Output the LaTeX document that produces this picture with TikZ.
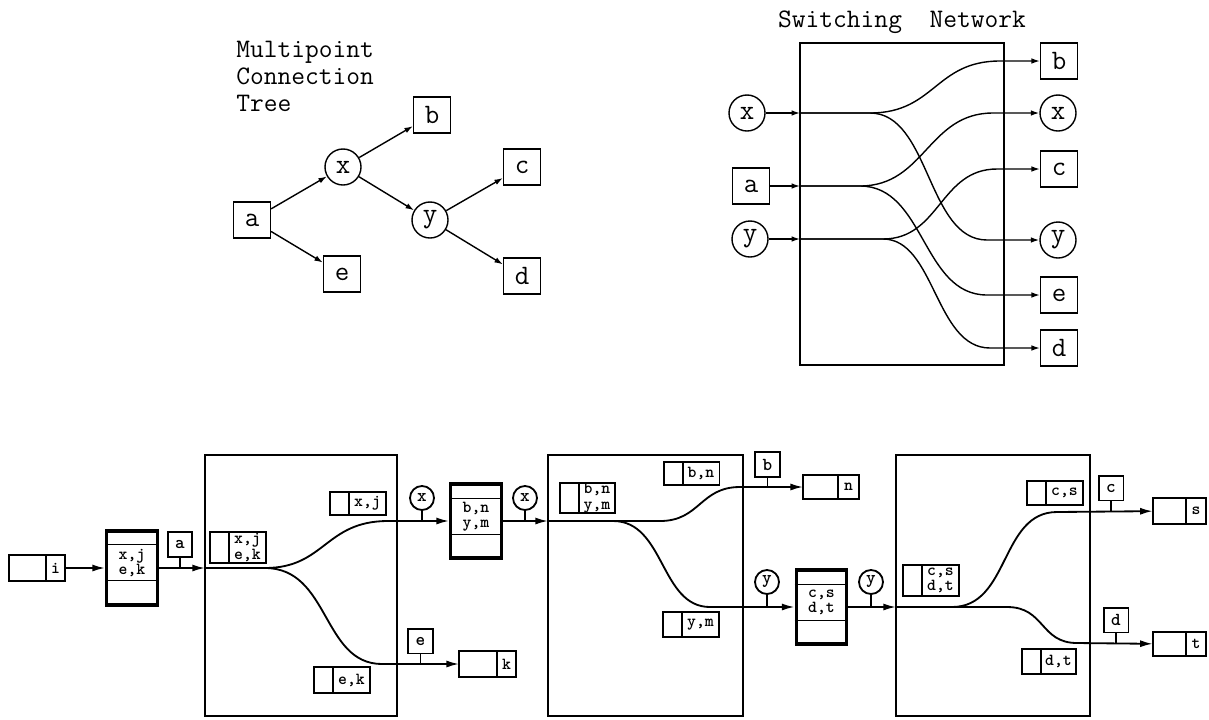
\documentclass[tikz,border=0pt]{standalone}
\usepackage{fontspec}
\usepackage{tikz}
\usetikzlibrary{positioning, arrows.meta, calc}
\newfontfamily\ptrfont{lmmonolt10-bold.otf}

\begin{document}
\begin{tikzpicture}[x=0.025cm, y=-0.025cm,
    lbl/.style={draw, line width=1pt, minimum width=0.92cm, minimum height=0.9cm, inner sep=0pt, font=\ttfamily\fontsize{20}{20}\selectfont},
    rnd/.style={lbl, circle, minimum size=0.9cm},
    ttl/.style={font=\ttfamily\fontsize{19}{19}\selectfont, inner sep=0pt},
    netbox/.style={draw, line width=2pt},
    arr/.style={-{Latex[length=6pt, width=4pt]}, line width=1pt},
    barr/.style={-{Latex[length=9pt, width=5pt]}, line width=1.3pt},
    stem/.style={line width=1.2pt},
    cell/.style={draw, line width=1.3pt, outer sep=0pt, inner sep=0pt, align=center, font=\ptrfont\fontsize{12}{11}\selectfont},
    wcell/.style={cell, minimum width=0.92cm},
    ncell/.style={cell, minimum width=0.47cm},
    tbl/.style={draw, line width=2.2pt, minimum width=1.27cm, minimum height=1.85cm, inner sep=0pt},
    tbltxt/.style={inner sep=0pt, align=center, font=\ptrfont\fontsize{12}{11}\selectfont},
    tagc/.style={draw, circle, line width=1.3pt, minimum size=0.6cm, inner sep=0pt, font=\ptrfont\fontsize{13}{13}\selectfont},
    tagb/.style={tagc, rectangle, minimum size=0.62cm}]
  \useasboundingbox (0,0) rectangle (1209,719);

  % multipoint connection tree
  \node[ttl, anchor=north west, align=left] (mct) at (236,41) {Multipoint\\Connection\\Tree};
  \node[lbl] (a) at (252,220) {a};
  \node[rnd] (x) at (343,167) {x};
  \node[lbl] (b) at (432,115) {b};
  \node[rnd] (y) at (430,220) {y};
  \node[lbl] (c) at (522,167) {c};
  \node[lbl] (d) at (522,276) {d};
  \node[lbl] (e) at (342,274) {e};
  \draw[arr] (a) -- (x);
  \draw[arr] (x) -- (b);
  \draw[arr] (x) -- (y);
  \draw[arr] (y) -- (c);
  \draw[arr] (y) -- (d);
  \draw[arr] (a) -- (e);

  % switching network
  \node[ttl] (swn) at (902,22) {Switching\ \ Network};
  \draw[netbox] (800,43) rectangle (1004,365);
  \node[rnd] (lx) at (747,113) {x};
  \node[lbl] (la) at (751,186) {a};
  \node[rnd] (ly) at (750,239) {y};
  \node[lbl] (rb) at (1059,61) {b};
  \node[rnd] (rx) at (1058,113) {x};
  \node[lbl] (rc) at (1059,169) {c};
  \node[rnd] (ry) at (1058,240) {y};
  \node[lbl] (re) at (1059,295) {e};
  \node[lbl] (rd) at (1059,348) {d};
  \coordinate (ix) at (800,113);
  \coordinate (ia) at (800,186);
  \coordinate (iy) at (800,239);
  \draw[arr] (lx) -- (ix);
  \draw[arr] (la) -- (ia);
  \draw[arr] (ly) -- (iy);
  \draw[arr] (ix) -- (870,113) .. controls (935,113) and (935,61) .. (1000,61) -- (rb);
  \draw[arr] (ix) -- (870,113) .. controls (930,113) and (927,240) .. (987,240) -- (ry);
  \draw[arr] (ia) -- (860,186) .. controls (925,186) and (928,113) .. (993,113) -- (rx);
  \draw[arr] (ia) -- (860,186) .. controls (925,186) and (922,295) .. (987,295) -- (re);
  \draw[arr] (iy) -- (883,239) .. controls (940,239) and (940,169) .. (997,169) -- (rc);
  \draw[arr] (iy) -- (883,239) .. controls (935,239) and (935,348) .. (990,348) -- (rd);

  % switch chain
  \node[ncell, minimum height=0.65cm] (ip) at (55.5,568) {i};
  \node[wcell, minimum height=0.65cm, left=0pt of ip] (ip0) {};
  \node[tbl] (t1) at (132,568) {};
  \node[tbltxt] (t1x) at (132,563) {x,j\\e,k};
  \node[tbl] (t2) at (476,521) {};
  \node[tbltxt] (t2x) at (476,516.5) {b,n\\y,m};
  \node[tbl] (t3) at (821.5,607) {};
  \node[tbltxt] (t3x) at (821.5,602.5) {c,s\\d,t};
  \foreach \tb/\up/\dn in {t1/0.375/0.65, t2/0.4/0.625, t3/0.4/0.625}
    \draw[stem] ([yshift=-\up cm]\tb.north west) -- ([yshift=-\up cm]\tb.north east)
      ([yshift=\dn cm]\tb.south west) -- ([yshift=\dn cm]\tb.south east);

  \coordinate (in1) at (205,568);
  \coordinate (in2) at (548,521);
  \coordinate (in3) at (896,607);
  \draw[barr] (ip) -- (t1);
  \draw[barr] (t1) -- (in1);
  \draw[barr] (t2) -- (in2);
  \draw[barr] (t3) -- (in3);

  % first switch
  \draw[netbox] (205,455) rectangle (397,716);
  \node[wcell, minimum height=0.78cm] (p1) at (247.5,547.5) {x,j\\e,k};
  \node[ncell, minimum height=0.78cm, left=0pt of p1] (p10) {};
  \node[wcell, minimum height=0.58cm] (xj) at (367.5,503.5) {x,j};
  \node[ncell, minimum height=0.58cm, left=0pt of xj] (xj0) {};
  \node[wcell, minimum height=0.65cm] (ek) at (351.5,680) {e,k};
  \node[ncell, minimum height=0.65cm, left=0pt of ek] (ek0) {};
  \node[ncell, minimum height=0.63cm] (k) at (506.5,664) {k};
  \node[wcell, minimum height=0.63cm, minimum width=0.95cm, left=0pt of k] (k0) {};
  \coordinate (s1) at (265,568);
  \draw[barr] (in1) -- (s1) .. controls (325,568) and (325,521) .. (388,521) -- (t2);
  \draw[barr] (s1) .. controls (330,568) and (322,664) .. (382,664) -- (k0);
  \node[tagb] (ma) at (180,544.5) {a};
  \draw[stem] (ma) -- (ma |- in1);
  \node[tagc] (mx1) at (422,498) {x};
  \draw[stem] (mx1) -- (mx1 |- t2);
  \node[tagb] (me) at (420.5,641) {e};
  \draw[stem] (me) -- (me |- k0);

  % second switch
  \draw[netbox] (548,455) rectangle (743,716);
  \node[wcell, minimum height=0.75cm] (p2) at (597,498) {b,n\\y,m};
  \node[ncell, minimum height=0.75cm, left=0pt of p2] (p20) {};
  \node[wcell, minimum height=0.58cm] (bn) at (701,473.5) {b,n};
  \node[ncell, minimum height=0.58cm, left=0pt of bn] (bn0) {};
  \node[wcell, minimum height=0.63cm] (ym) at (700.5,624.5) {y,m};
  \node[ncell, minimum height=0.63cm, left=0pt of ym] (ym0) {};
  \node[ncell, minimum height=0.6cm, minimum width=0.52cm] (n) at (848.5,487) {n};
  \node[wcell, minimum height=0.6cm, minimum width=0.875cm, left=0pt of n] (n0) {};
  \coordinate (s2) at (613,521);
  \coordinate (s2u) at (660,521);
  \draw[barr] (in2) -- (s2u) .. controls (700,521) and (700,487) .. (740,487) -- (n0);
  \draw[barr] (s2) .. controls (665,521) and (660,607) .. (710,607) -- (t3);
  \node[tagc] (mx2) at (525,498) {x};
  \draw[stem] (mx2) -- (mx2 |- in2);
  \node[tagb] (mb) at (767.5,464.5) {b};
  \draw[stem] (mb) -- (mb |- n0);
  \node[tagc] (my1) at (767,582) {y};
  \draw[stem] (my1) -- (my1 |- t3);

  % third switch
  \draw[netbox] (896,455) rectangle (1090,716);
  \node[wcell, minimum height=0.78cm] (p3) at (940.5,580.5) {c,s\\d,t};
  \node[ncell, minimum height=0.78cm, left=0pt of p3] (p30) {};
  \node[wcell, minimum height=0.6cm] (cs) at (1064.5,493) {c,s};
  \node[ncell, minimum height=0.6cm, left=0pt of cs] (cs0) {};
  \node[wcell, minimum height=0.63cm, minimum width=0.875cm] (dt) at (1058.5,661.5) {d,t};
  \node[ncell, minimum height=0.63cm, left=0pt of dt] (dt0) {};
  \node[ncell, minimum height=0.63cm, minimum width=0.5cm] (s) at (1196,511) {s};
  \node[wcell, minimum height=0.63cm, minimum width=0.83cm, left=0pt of s] (s0) {};
  \node[ncell, minimum height=0.6cm, minimum width=0.5cm] (t) at (1196,644) {t};
  \node[wcell, minimum height=0.6cm, minimum width=0.83cm, left=0pt of t] (t0) {};
  \coordinate (s3) at (952,607);
  \coordinate (s3d) at (1007,607);
  \draw[barr] (in3) -- (s3) .. controls (1010,607) and (1000,512) .. (1057,512) -- (s0);
  \draw[barr] (s3) -- (s3d) .. controls (1045,607) and (1040,643) .. (1077,643) -- (t0);
  \node[tagc] (my2) at (871,582) {y};
  \draw[stem] (my2) -- (my2 |- in3);
  \node[tagb] (mc) at (1111,488) {c};
  \draw[stem] (mc) -- (mc |- s0);
  \node[tagb] (md) at (1116,620) {d};
  \draw[stem] (md) -- (md |- t0);
\end{tikzpicture}
\end{document}
